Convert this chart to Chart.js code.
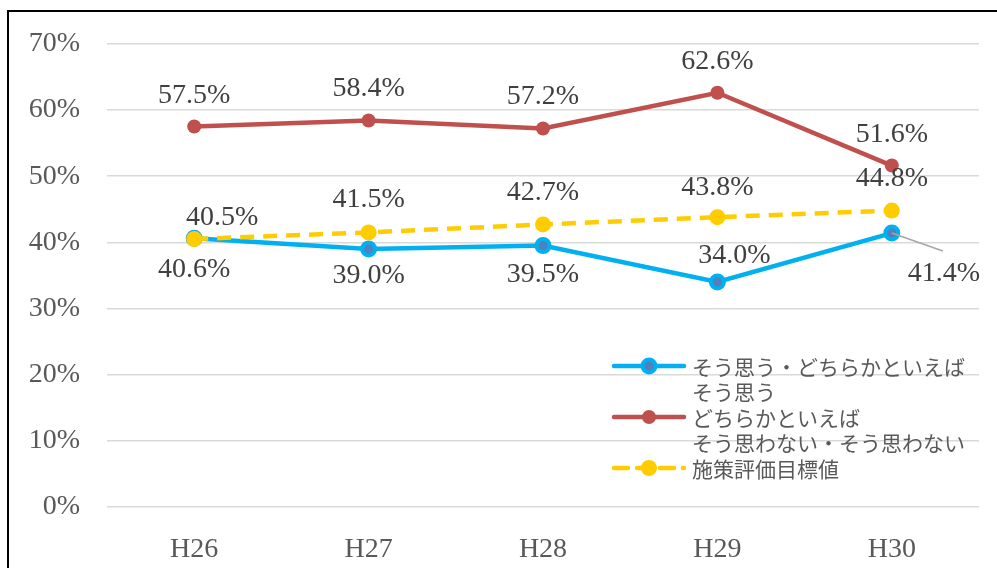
<!DOCTYPE html>
<html lang="ja">
<head>
<meta charset="utf-8">
<title>施策評価</title>
<script src="https://cdn.jsdelivr.net/npm/chart.js@4/dist/chart.umd.min.js"></script>
<style>
  html, body { margin: 0; padding: 0; background: #fff; }
  #wrap { position: relative; width: 997px; height: 568px; overflow: hidden; }
  #frame { position: absolute; left: 7px; top: 10px; width: 1100px; height: 700px; border: 2px solid #000; box-sizing: border-box; }
  #chart { position: absolute; left: 0; top: 0; }
</style>
</head>
<body>
<div id="wrap">
  <div id="frame"></div>
  <canvas id="chart" width="997" height="568"></canvas>
</div>
<script>
// Survey results by fiscal year
const years = ['H26', 'H27', 'H28', 'H29', 'H30'];
const positive = [40.6, 39.0, 39.5, 34.0, 41.4];
const negative = [57.5, 58.4, 57.2, 62.6, 51.6];
const target = [40.5, 41.5, 42.7, 43.8, 44.8];
const seriesNames = [
  'そう思う・どちらかといえば\nそう思う',
  'どちらかといえば\nそう思わない・そう思わない',
  '施策評価目標値'
];
const yTicks = [0, 10, 20, 30, 40, 50, 60, 70];

const SERIF = "'Liberation Serif', 'DejaVu Serif', serif";
const SANS = "'Noto Sans CJK JP', 'Noto Sans', sans-serif";

// where each value label sits relative to its point
const labelOffsets = [
  [[0, 31], [0, 27], [0, 29], [17, -26], [52, 41]],
  [[0, -31], [0, -32], [0, -32], [0, -31], [0, -31]],
  [[28, -21], [0, -33], [0, -32], [0, -30], [0, -32]]
];

const valueLabels = {
  id: 'valueLabels',
  afterDatasetsDraw(chart) {
    const ctx = chart.ctx;
    ctx.save();
    ctx.font = '28px ' + SERIF;
    ctx.fillStyle = '#404040';
    ctx.textAlign = 'center';
    ctx.textBaseline = 'middle';
    chart.data.datasets.forEach((ds, di) => {
      const meta = chart.getDatasetMeta(di);
      meta.data.forEach((pt, i) => {
        const [dx, dy] = labelOffsets[di][i];
        // leader line for labels pushed far from their point
        if (Math.abs(dx) > 40) {
          ctx.strokeStyle = '#a6a6a6';
          ctx.lineWidth = 1.5;
          ctx.beginPath();
          ctx.moveTo(pt.x, pt.y);
          ctx.lineTo(pt.x + dx - 1, pt.y + dy - 23);
          ctx.stroke();
        }
        ctx.fillText(ds.data[i].toFixed(1) + '%', pt.x + dx, pt.y + dy);
      });
    });
    ctx.restore();
  }
};

// legend drawn inside the plot, lower right
const innerLegend = {
  id: 'innerLegend',
  afterDraw(chart) {
    const ctx = chart.ctx;
    const x0 = 614, symW = 70, textX = 692;
    let y = 366;
    const lineH = 25.5;
    ctx.save();
    chart.data.datasets.forEach((ds) => {
      const cx = x0 + symW / 2;
      ctx.strokeStyle = ds.borderColor;
      ctx.lineWidth = ds.borderWidth;
      ctx.lineCap = 'round';
      ctx.setLineDash(ds.borderDash || []);
      ctx.beginPath();
      ctx.moveTo(x0, y);
      ctx.lineTo(x0 + symW, y);
      ctx.stroke();
      ctx.setLineDash([]);
      ctx.beginPath();
      ctx.arc(cx, y, ds.pointRadius, 0, Math.PI * 2);
      ctx.fillStyle = ds.pointBackgroundColor;
      ctx.fill();
      if (ds.pointBorderWidth) {
        ctx.lineWidth = ds.pointBorderWidth;
        ctx.strokeStyle = ds.pointBorderColor;
        ctx.stroke();
      }
      ctx.font = '21px ' + SANS;
      ctx.fillStyle = '#595959';
      ctx.textAlign = 'left';
      ctx.textBaseline = 'middle';
      ds.label.split('\n').forEach((line) => {
        ctx.fillText(line, textX, y + 1);
        y += lineH;
      });
    });
    ctx.restore();
  }
};

new Chart(document.getElementById('chart'), {
  type: 'line',
  data: {
    labels: years,
    datasets: [
      {
        label: seriesNames[0],
        data: positive,
        borderColor: '#00B0F0',
        borderWidth: 4.5,
        pointRadius: 6.5,
        pointBackgroundColor: '#4F81BD',
        pointBorderColor: '#00B0F0',
        pointBorderWidth: 4,
        order: 2
      },
      {
        label: seriesNames[1],
        data: negative,
        borderColor: '#C0504D',
        borderWidth: 4.5,
        pointRadius: 7,
        pointBackgroundColor: '#C0504D',
        pointBorderColor: '#C0504D',
        pointBorderWidth: 0,
        order: 3
      },
      {
        label: seriesNames[2],
        data: target,
        borderColor: '#FFCC00',
        borderWidth: 4.5,
        borderDash: [14, 9],
        pointRadius: 8,
        pointBackgroundColor: '#FFCC00',
        pointBorderColor: '#FFCC00',
        pointBorderWidth: 0,
        order: 1
      }
    ]
  },
  options: {
    responsive: false,
    animation: false,
    devicePixelRatio: 1,
    layout: { padding: { top: 42, right: 18, left: 0, bottom: 0 } },
    plugins: {
      legend: { display: false },
      tooltip: { enabled: false }
    },
    scales: {
      x: {
        offset: true,
        grid: { display: false },
        border: { display: false },
        ticks: { color: '#595959', font: { family: SERIF, size: 28 }, padding: 18 },
        afterFit(scale) { scale.height = 61; }
      },
      y: {
        min: yTicks[0],
        max: yTicks[yTicks.length - 1],
        afterBuildTicks(scale) { scale.ticks = yTicks.map(v => ({ value: v })); },
        grid: { color: '#d9d9d9', lineWidth: 1.5, drawTicks: false },
        border: { display: false },
        ticks: {
          color: '#595959',
          font: { family: SERIF, size: 28 },
          padding: 27,
          callback: v => v + '%'
        },
        afterFit(scale) { scale.width = 107; }
      }
    }
  },
  plugins: [valueLabels, innerLegend]
});
</script>
</body>
</html>
